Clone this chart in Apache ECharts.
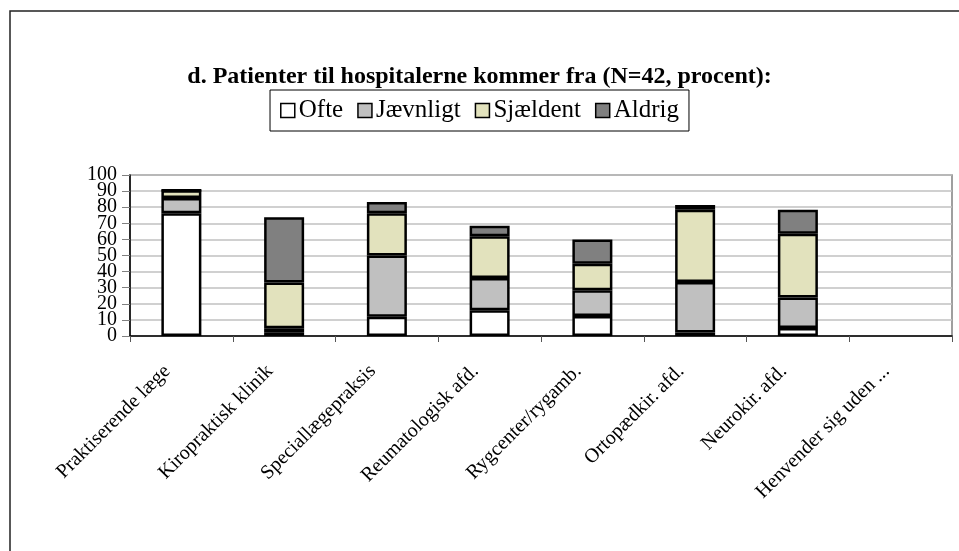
<!DOCTYPE html>
<html>
<head>
<meta charset="utf-8">
<title>Patienter til hospitalerne</title>
<script src="https://cdn.jsdelivr.net/npm/echarts@6/dist/echarts.min.js"></script>
<style>
  html, body { margin: 0; padding: 0; background: #fff; }
  #main { width: 959px; height: 551px; }
</style>
</head>
<body>
<div id="main"></div>
<script>
// kategorier (x-akse)
var categories = ['Praktiserende læge', 'Kiropraktisk klinik', 'Speciallægepraksis', 'Reumatologisk afd.',
  'Rygcenter/rygamb.', 'Ortopædkir. afd.', 'Neurokir. afd.', 'Henvender sig uden ...'];

// procent
var ofte     = [76.2, 2.4, 11.9, 16.0, 12.4, 2.1, 5.0, null];
var jaevnligt = [9.5, 2.4, 38.1, 20.1, 16.0, 31.5, 18.9, null];
var sjaeldent = [4.8, 28.5, 26.2, 25.9, 16.4, 44.8, 39.6, null];
var aldrig   = [0, 40.5, 7.1, 6.5, 15.2, 2.9, 14.9, null];

// y-akse labels: lige og ulige tiere på hver sin akse, så de ikke skjules ved overlap
var yTicksEven = [0, 20, 40, 60, 80, 100];
var yTicksOdd = [10, 30, 50, 70, 90];

var font = 'Liberation Serif, Times New Roman, serif';

var chart = echarts.init(document.getElementById('main'));

function serie(name, data, color) {
  return {
    name: name,
    type: 'bar',
    stack: 'total',
    barWidth: 40,
    yAxisIndex: 0,
    data: data,
    itemStyle: { color: color, borderColor: '#000', borderWidth: 2.5 },
    emphasis: { disabled: true }
  };
}

function yLabel(list, showEnds) {
  return {
    margin: 13,
    fontFamily: font,
    fontSize: 20,
    color: '#000',
    showMinLabel: showEnds,
    showMaxLabel: showEnds,
    formatter: function (v) { return list.indexOf(v) >= 0 ? String(v) : ''; }
  };
}

chart.setOption({
  backgroundColor: '#fff',
  animation: false,
  textStyle: { fontFamily: font, color: '#000' },
  title: {
    text: 'd. Patienter til hospitalerne kommer fra (N=42, procent):',
    left: 'center',
    top: 60,
    textStyle: { fontFamily: font, fontSize: 24, fontWeight: 'bold', color: '#000' }
  },
  legend: {
    top: 90,
    left: 'center',
    icon: 'rect',
    itemWidth: 14,
    itemHeight: 14,
    itemGap: 14,
    padding: [8, 10, 8, 10],
    borderColor: '#000',
    borderWidth: 1,
    backgroundColor: '#fff',
    textStyle: { fontFamily: font, fontSize: 25, color: '#000', padding: [0, 0, 0, -1] },
    data: ['Ofte', 'Jævnligt', 'Sjældent', 'Aldrig'],
    itemStyle: { borderColor: '#000', borderWidth: 1.5 }
  },
  graphic: [{
    type: 'rect',
    shape: { x: 10, y: 11, width: 1000, height: 1000 },
    style: { fill: null, stroke: '#222', lineWidth: 1.5 },
    silent: true
  }],
  grid: { left: 130, right: 7, top: 175, bottom: 215, show: true, borderColor: '#808080', borderWidth: 1.5 },
  xAxis: {
    type: 'category',
    data: categories,
    axisLine: { lineStyle: { color: '#000', width: 1.5 } },
    axisTick: { show: true, length: 6, lineStyle: { color: '#555' } },
    axisLabel: {
      rotate: 45,
      interval: 0,
      margin: 18,
      padding: [0, 20, 0, 0],
      fontFamily: font,
      fontSize: 20,
      color: '#000'
    }
  },
  yAxis: [{
    type: 'value',
    position: 'left',
    min: 0,
    max: 100,
    interval: 10,
    axisLine: { show: true, lineStyle: { color: '#000', width: 1.5 } },
    axisTick: { show: true, length: 8, lineStyle: { color: '#808080' } },
    splitLine: { lineStyle: { color: '#c0c0c0', width: 1.5 } },
    axisLabel: yLabel(yTicksEven, true)
  }, {
    type: 'value',
    position: 'left',
    offset: 0,
    min: 0,
    max: 100,
    interval: 10,
    axisLine: { show: false },
    axisTick: { show: false },
    splitLine: { show: false },
    axisLabel: yLabel(yTicksOdd, false)
  }],
  series: [
    serie('Ofte', ofte, '#ffffff'),
    serie('Jævnligt', jaevnligt, '#c0c0c0'),
    serie('Sjældent', sjaeldent, '#e2e2bd'),
    serie('Aldrig', aldrig, '#808080')
  ]
});
</script>
</body>
</html>
